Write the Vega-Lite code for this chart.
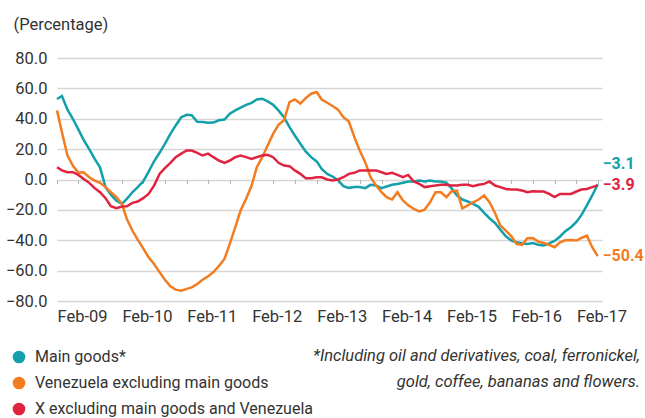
{
  "$schema": "https://vega.github.io/schema/vega-lite/v6.json",
  "width": 545,
  "height": 243,
  "autosize": {"type": "none"},
  "padding": {"left": 57, "top": 58, "right": 43, "bottom": 117},
  "background": "white",
  "title": {
    "text": ["*Including oil and derivatives, coal, ferronickel,", "gold, coffee, bananas and flowers."],
    "orient": "bottom",
    "anchor": "end",
    "align": "right",
    "baseline": "top",
    "frame": "group",
    "font": "Roboto",
    "fontStyle": "italic",
    "fontWeight": "normal",
    "fontSize": 16.5,
    "lineHeight": 26,
    "color": "#333333",
    "dx": 38,
    "offset": -69
  },
  "data": {
    "values": [
      {"date": "2009-02-01", "main": 53, "venezuela": 45.5, "other": 8.1},
      {"date": "2009-03-01", "main": 55, "venezuela": 31, "other": 6},
      {"date": "2009-04-01", "main": 46, "venezuela": 15.8, "other": 4.8},
      {"date": "2009-05-01", "main": 40, "venezuela": 9.2, "other": 4.8},
      {"date": "2009-06-01", "main": 33, "venezuela": 4.4, "other": 3},
      {"date": "2009-07-01", "main": 26, "venezuela": 4.8, "other": 0.4},
      {"date": "2009-08-01", "main": 20, "venezuela": 1.5, "other": -2.2},
      {"date": "2009-09-01", "main": 13.6, "venezuela": -0.7, "other": -5.7},
      {"date": "2009-10-01", "main": 8, "venezuela": -2.2, "other": -8.4},
      {"date": "2009-11-01", "main": -5, "venezuela": -5, "other": -12.3},
      {"date": "2009-12-01", "main": -10, "venezuela": -8.4, "other": -17.6},
      {"date": "2010-01-01", "main": -14, "venezuela": -11.6, "other": -18.9},
      {"date": "2010-02-01", "main": -16, "venezuela": -16, "other": -17.8},
      {"date": "2010-03-01", "main": -12.7, "venezuela": -26, "other": -17.6},
      {"date": "2010-04-01", "main": -8.4, "venezuela": -33.6, "other": -15.4},
      {"date": "2010-05-01", "main": -5, "venezuela": -39.6, "other": -14.5},
      {"date": "2010-06-01", "main": -1.3, "venezuela": -45.3, "other": -12.3},
      {"date": "2010-07-01", "main": 5, "venezuela": -51.2, "other": -9.5},
      {"date": "2010-08-01", "main": 12, "venezuela": -55.6, "other": -4},
      {"date": "2010-09-01", "main": 17.6, "venezuela": -61, "other": 3.7},
      {"date": "2010-10-01", "main": 23.5, "venezuela": -66, "other": 7.5},
      {"date": "2010-11-01", "main": 30, "venezuela": -70.3, "other": 11},
      {"date": "2010-12-01", "main": 35.6, "venezuela": -72.5, "other": 14.7},
      {"date": "2011-01-01", "main": 41, "venezuela": -73.2, "other": 17},
      {"date": "2011-02-01", "main": 42.6, "venezuela": -72, "other": 19.1},
      {"date": "2011-03-01", "main": 42.4, "venezuela": -71, "other": 19.1},
      {"date": "2011-04-01", "main": 38, "venezuela": -68.8, "other": 17.6},
      {"date": "2011-05-01", "main": 37.8, "venezuela": -66, "other": 15.8},
      {"date": "2011-06-01", "main": 37.4, "venezuela": -63.7, "other": 17},
      {"date": "2011-07-01", "main": 37.5, "venezuela": -61, "other": 14.7},
      {"date": "2011-08-01", "main": 39, "venezuela": -57, "other": 12.5},
      {"date": "2011-09-01", "main": 39.5, "venezuela": -52.3, "other": 11},
      {"date": "2011-10-01", "main": 43.3, "venezuela": -42.4, "other": 12.5},
      {"date": "2011-11-01", "main": 45.5, "venezuela": -31.4, "other": 14.7},
      {"date": "2011-12-01", "main": 47.3, "venezuela": -20.4, "other": 15.8},
      {"date": "2012-01-01", "main": 49.2, "venezuela": -12.7, "other": 14.7},
      {"date": "2012-02-01", "main": 50.5, "venezuela": -4, "other": 13.6},
      {"date": "2012-03-01", "main": 52.7, "venezuela": 8.1, "other": 14.7},
      {"date": "2012-04-01", "main": 53.2, "venezuela": 14.7, "other": 15.8},
      {"date": "2012-05-01", "main": 51.4, "venezuela": 22.4, "other": 16.3},
      {"date": "2012-06-01", "main": 49.2, "venezuela": 30, "other": 14.7},
      {"date": "2012-07-01", "main": 45.5, "venezuela": 36, "other": 11},
      {"date": "2012-08-01", "main": 41, "venezuela": 39, "other": 9.2},
      {"date": "2012-09-01", "main": 34.5, "venezuela": 51, "other": 8.8},
      {"date": "2012-10-01", "main": 29, "venezuela": 52.7, "other": 6},
      {"date": "2012-11-01", "main": 23.5, "venezuela": 50, "other": 3.7},
      {"date": "2012-12-01", "main": 18.5, "venezuela": 53.6, "other": 0.9},
      {"date": "2013-01-01", "main": 14.7, "venezuela": 56.5, "other": 0.9},
      {"date": "2013-02-01", "main": 11.9, "venezuela": 57.6, "other": 1.5},
      {"date": "2013-03-01", "main": 7, "venezuela": 52.7, "other": 1.5},
      {"date": "2013-04-01", "main": 3.7, "venezuela": 50.5, "other": 0},
      {"date": "2013-05-01", "main": 2, "venezuela": 48.4, "other": -0.7},
      {"date": "2013-06-01", "main": -0.5, "venezuela": 46, "other": 0},
      {"date": "2013-07-01", "main": -4.4, "venezuela": 41, "other": 1.5},
      {"date": "2013-08-01", "main": -5.5, "venezuela": 38.2, "other": 3.7},
      {"date": "2013-09-01", "main": -5, "venezuela": 27.9, "other": 4.4},
      {"date": "2013-10-01", "main": -5, "venezuela": 19.1, "other": 6},
      {"date": "2013-11-01", "main": -5.7, "venezuela": 11.4, "other": 6},
      {"date": "2013-12-01", "main": -3.5, "venezuela": 1.5, "other": 6},
      {"date": "2014-01-01", "main": -4, "venezuela": -4, "other": 6},
      {"date": "2014-02-01", "main": -5.7, "venezuela": -8.4, "other": 4.8},
      {"date": "2014-03-01", "main": -4.6, "venezuela": -11.6, "other": 3.7},
      {"date": "2014-04-01", "main": -3.5, "venezuela": -13.2, "other": 4.4},
      {"date": "2014-05-01", "main": -2.9, "venezuela": -8.4, "other": 3},
      {"date": "2014-06-01", "main": -2.2, "venezuela": -13.8, "other": 1.5},
      {"date": "2014-07-01", "main": -1.3, "venezuela": -17, "other": 3},
      {"date": "2014-08-01", "main": -1.3, "venezuela": -19.3, "other": -1.3},
      {"date": "2014-09-01", "main": -0.7, "venezuela": -21, "other": -2.9},
      {"date": "2014-10-01", "main": -1.3, "venezuela": -19.8, "other": -5},
      {"date": "2014-11-01", "main": -0.7, "venezuela": -15, "other": -4.4},
      {"date": "2014-12-01", "main": -1.3, "venezuela": -8.4, "other": -4},
      {"date": "2015-01-01", "main": -1.3, "venezuela": -8.4, "other": -3.5},
      {"date": "2015-02-01", "main": -2.2, "venezuela": -11.6, "other": -3.5},
      {"date": "2015-03-01", "main": -5.7, "venezuela": -7.9, "other": -4},
      {"date": "2015-04-01", "main": -10.5, "venezuela": -7.3, "other": -4},
      {"date": "2015-05-01", "main": -13.2, "venezuela": -19, "other": -3.5},
      {"date": "2015-06-01", "main": -14.5, "venezuela": -17, "other": -3.5},
      {"date": "2015-07-01", "main": -16, "venezuela": -15, "other": -4.4},
      {"date": "2015-08-01", "main": -18, "venezuela": -13.2, "other": -3.5},
      {"date": "2015-09-01", "main": -22, "venezuela": -10.5, "other": -2.9},
      {"date": "2015-10-01", "main": -25.5, "venezuela": -15, "other": -1.3},
      {"date": "2015-11-01", "main": -28.6, "venezuela": -22, "other": -4},
      {"date": "2015-12-01", "main": -33, "venezuela": -30.3, "other": -5},
      {"date": "2016-01-01", "main": -37.4, "venezuela": -33.6, "other": -6.2},
      {"date": "2016-02-01", "main": -40.2, "venezuela": -37.4, "other": -6.6},
      {"date": "2016-03-01", "main": -41.3, "venezuela": -42.4, "other": -6.6},
      {"date": "2016-04-01", "main": -42, "venezuela": -43, "other": -7.3},
      {"date": "2016-05-01", "main": -42.4, "venezuela": -38.7, "other": -8.4},
      {"date": "2016-06-01", "main": -41.8, "venezuela": -38.5, "other": -7.7},
      {"date": "2016-07-01", "main": -43, "venezuela": -40.9, "other": -7.9},
      {"date": "2016-08-01", "main": -43.5, "venezuela": -41.8, "other": -7.9},
      {"date": "2016-09-01", "main": -42, "venezuela": -43, "other": -9.5},
      {"date": "2016-10-01", "main": -40.5, "venezuela": -44.6, "other": -11.6},
      {"date": "2016-11-01", "main": -37.5, "venezuela": -41.3, "other": -9.5},
      {"date": "2016-12-01", "main": -34, "venezuela": -40, "other": -9.5},
      {"date": "2017-01-01", "main": -31.4, "venezuela": -39.8, "other": -9.5},
      {"date": "2017-02-01", "main": -28, "venezuela": -40.2, "other": -7.9},
      {"date": "2017-03-01", "main": -23.5, "venezuela": -38.5, "other": -6.6},
      {"date": "2017-04-01", "main": -17, "venezuela": -37, "other": -6.2},
      {"date": "2017-05-01", "main": -10.5, "venezuela": -44.6, "other": -5},
      {"date": "2017-06-01", "main": -3.1, "venezuela": -50.4, "other": -3.9}
    ]
  },
  "transform": [
    {"fold": ["main", "venezuela", "other"], "as": ["series", "value"]}
  ],
  "resolve": {"axis": {"x": "independent", "y": "independent"}},
  "layer": [
    {
      "mark": {"type": "line", "strokeWidth": 2.5, "interpolate": "linear"},
      "encoding": {
        "x": {
          "field": "date", "type": "temporal",
          "scale": {"type": "utc", "domain": [{"year": 2009, "month": 2, "date": 1, "utc": true}, {"year": 2017, "month": 6, "date": 25, "utc": true}]},
          "axis": {
            "orient": "bottom",
            "title": null,
            "values": [
              {"year": 2009, "month": 2, "date": 1, "utc": true},
              {"year": 2010, "month": 2, "date": 1, "utc": true},
              {"year": 2011, "month": 2, "date": 1, "utc": true},
              {"year": 2012, "month": 2, "date": 1, "utc": true},
              {"year": 2013, "month": 2, "date": 1, "utc": true},
              {"year": 2014, "month": 2, "date": 1, "utc": true},
              {"year": 2015, "month": 2, "date": 1, "utc": true},
              {"year": 2016, "month": 2, "date": 1, "utc": true},
              {"year": 2017, "month": 2, "date": 1, "utc": true}
            ],
            "labelExpr": "utcFormat(datum.value, '%b-%y')",
            "labelAlign": "left",
            "labelBaseline": "top",
            "labelPadding": 7,
            "labelFlush": false,
            "labelBound": false,
            "labelOverlap": false,
            "ticks": false,
            "domain": false,
            "grid": false
          }
        },
        "y": {
          "field": "value", "type": "quantitative",
          "scale": {"domain": [-80, 80], "nice": false, "zero": false},
          "axis": {
            "orient": "left",
            "title": "(Percentage)",
            "titleAngle": 0,
            "titleAlign": "left",
            "titleBaseline": "alphabetic",
            "titleX": -44,
            "titleY": -29,
            "titleFont": "Roboto",
            "titleFontSize": 16.5,
            "titleFontWeight": "normal",
            "titleColor": "#333333",
            "values": [-80, -60, -40, -20, 0, 20, 40, 60, 80],
            "tickCount": 9,
            "format": ".1f",
            "labelPadding": 10,
            "labelOverlap": false,
            "ticks": false,
            "domain": false,
            "grid": true
          }
        },
        "color": {
          "field": "series", "type": "nominal",
          "scale": {"domain": ["main", "venezuela", "other"], "range": ["#13a0aa", "#f47c20", "#e02440"]},
          "legend": {
            "orient": "none",
            "legendX": -46,
            "legendY": 291,
            "title": null,
            "direction": "vertical",
            "symbolType": "circle",
            "symbolSize": 160,
            "symbolStrokeWidth": 0,
            "labelFont": "Roboto",
            "labelFontSize": 16,
            "labelColor": "#333333",
            "labelOffset": 8,
            "rowPadding": 10,
            "padding": 0,
            "labelLimit": 400,
            "labelExpr": "datum.label == 'main' ? 'Main goods*' : datum.label == 'venezuela' ? 'Venezuela excluding main goods' : 'X excluding main goods and Venezuela'"
          }
        }
      }
    },
    {
      "transform": [
        {"filter": "utcyear(datum.date) == 2017 && utcmonth(datum.date) == 5 && datum.series != 'main'"}
      ],
      "mark": {"type": "text", "align": "left", "baseline": "middle", "dx": 5, "fontSize": 16, "fontWeight": "bold", "font": "Roboto"},
      "encoding": {
        "x": {
          "field": "date", "type": "temporal",
          "axis": {
            "orient": "bottom",
            "title": null,
            "values": [
              {"year": 2009, "month": 2, "date": 1, "utc": true},
              {"year": 2009, "month": 6, "date": 1, "utc": true},
              {"year": 2009, "month": 10, "date": 1, "utc": true},
              {"year": 2010, "month": 2, "date": 1, "utc": true},
              {"year": 2010, "month": 6, "date": 1, "utc": true},
              {"year": 2010, "month": 10, "date": 1, "utc": true},
              {"year": 2011, "month": 2, "date": 1, "utc": true},
              {"year": 2011, "month": 6, "date": 1, "utc": true},
              {"year": 2011, "month": 10, "date": 1, "utc": true},
              {"year": 2012, "month": 2, "date": 1, "utc": true},
              {"year": 2012, "month": 6, "date": 1, "utc": true},
              {"year": 2012, "month": 10, "date": 1, "utc": true},
              {"year": 2013, "month": 2, "date": 1, "utc": true},
              {"year": 2013, "month": 6, "date": 1, "utc": true},
              {"year": 2013, "month": 10, "date": 1, "utc": true},
              {"year": 2014, "month": 2, "date": 1, "utc": true},
              {"year": 2014, "month": 6, "date": 1, "utc": true},
              {"year": 2014, "month": 10, "date": 1, "utc": true},
              {"year": 2015, "month": 2, "date": 1, "utc": true},
              {"year": 2015, "month": 6, "date": 1, "utc": true},
              {"year": 2015, "month": 10, "date": 1, "utc": true},
              {"year": 2016, "month": 2, "date": 1, "utc": true},
              {"year": 2016, "month": 6, "date": 1, "utc": true},
              {"year": 2016, "month": 10, "date": 1, "utc": true},
              {"year": 2017, "month": 2, "date": 1, "utc": true},
              {"year": 2017, "month": 6, "date": 1, "utc": true}
            ],
            "labels": false,
            "domain": false,
            "grid": false,
            "ticks": true,
            "tickSize": 4,
            "tickWidth": 1,
            "tickColor": "#b4b4b4",
            "offset": -121.5
          }
        },
        "y": {"field": "value", "type": "quantitative", "axis": null},
        "text": {"field": "value", "type": "quantitative", "format": ".1f"},
        "color": {"field": "series", "type": "nominal", "legend": null}
      }
    },
    {
      "transform": [
        {"filter": "utcyear(datum.date) == 2017 && utcmonth(datum.date) == 5 && datum.series == 'main'"}
      ],
      "mark": {"type": "text", "align": "left", "baseline": "middle", "dx": 5, "dy": -20, "fontSize": 16, "fontWeight": "bold", "font": "Roboto"},
      "encoding": {
        "x": {"field": "date", "type": "temporal", "axis": null},
        "y": {"field": "value", "type": "quantitative", "axis": null},
        "text": {"field": "value", "type": "quantitative", "format": ".1f"},
        "color": {"field": "series", "type": "nominal", "legend": null}
      }
    }
  ],
  "config": {
    "font": "Roboto",
    "view": {"stroke": null},
    "axis": {
      "labelFont": "Roboto",
      "labelFontSize": 16.5,
      "labelColor": "#333333",
      "gridColor": "#d6d6d6",
      "gridWidth": 1.5
    },
    "axisY": {"labelOverlap": false, "labelBound": false}
  }
}
